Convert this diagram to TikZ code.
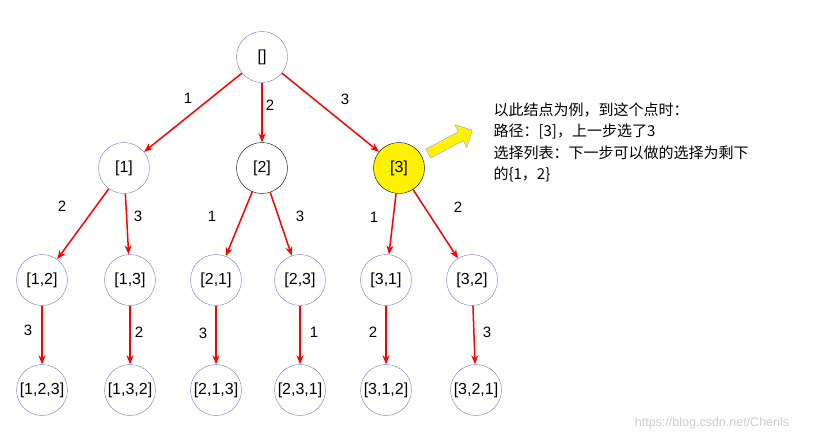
\documentclass[tikz,border=0pt]{standalone}
\usepackage{fontspec}
\setmainfont{Liberation Sans}
\newfontfamily\cjk{Noto Sans CJK SC}
\usetikzlibrary{arrows.meta,shapes.arrows}
\begin{document}
\begin{tikzpicture}[x=1pt,y=-1pt,
  nd/.style={circle,draw=blue!55!gray!70,minimum size=51pt,inner sep=0pt,font=\fontsize{16}{18}\selectfont},
  ed/.style={draw=red,line width=1.5pt,-{Stealth[length=9pt,width=7pt]}},
  lb/.style={font=\fontsize{15}{17}\selectfont}]
\useasboundingbox (0,0) rectangle (820,442);
\node[nd] (r) at (262,57) {[]};
\node[nd] (a1) at (124,168) {[1]};
\node[nd,draw=black] (a2) at (262,168) {[2]};
\node[nd,draw=black,fill=yellow] (a3) at (399,168) {[3]};
\foreach \n/\x/\t in {b12/42/{[1,2]},b13/130/{[1,3]},b21/216/{[2,1]},b23/300/{[2,3]},b31/386/{[3,1]},b32/472/{[3,2]}}
  \node[nd] (\n) at (\x,280) {\t};
\foreach \n/\x/\t in {c123/42/{[1,2,3]},c132/130/{[1,3,2]},c213/216/{[2,1,3]},c231/300/{[2,3,1]},c312/386/{[3,1,2]},c321/476/{[3,2,1]}}
  \node[nd] (\n) at (\x,390) {\t};
\draw[ed] (r) -- (a1); \draw[ed] (r) -- (a2); \draw[ed] (r) -- (a3);
\draw[ed] (a1) -- (b12); \draw[ed] (a1) -- (b13);
\draw[ed] (a2) -- (b21); \draw[ed] (a2) -- (b23);
\draw[ed] (a3) -- (b31); \draw[ed] (a3) -- (b32);
\foreach \p/\c in {b12/c123,b13/c132,b21/c213,b23/c231,b31/c312,b32/c321} \draw[ed] (\p) -- (\c);
\foreach \x/\y/\t in {188/98/1,270/105/2,345/99/3,62/206/2,138/216/3,212/216/1,300/216/3,374/217/1,458/207/2,28/330/3,139/332/2,203/333/3,314/332/1,373/332/2,487/332/3}
  \node[lb] (l\x) at (\x,\y) {\t};
\node[single arrow,draw=blue!40,fill=yellow,minimum height=50pt,minimum width=26pt,single arrow head extend=5pt,inner sep=3pt,rotate=28] (arr) at (448,143) {};
\node[anchor=north west,align=left,font=\cjk\fontsize{15}{21.5}\selectfont] (txt) at (490,99)
 {以此结点为例，到这个点时：\\路径：[3]，上一步选了3\\选择列表：下一步可以做的选择为剩下\\的\{1，2\}};
\node[text=gray!40,font=\fontsize{12.5}{14}\selectfont] (wm) at (712,423) {https://blog.csdn.net/Cherils};
\end{tikzpicture}
\end{document}
